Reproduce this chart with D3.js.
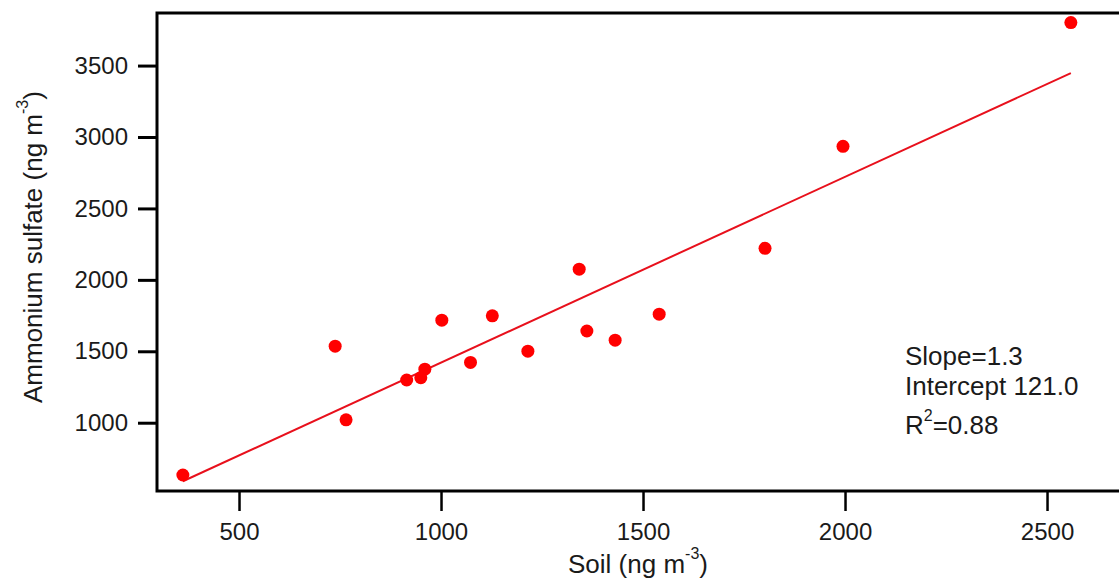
<!DOCTYPE html>
<html>
<head>
<meta charset="utf-8">
<script src="https://cdn.jsdelivr.net/npm/d3@7"></script>
<style>
  body { margin: 0; background: #fff; }
  text { font-family: "Liberation Sans", Arial, sans-serif; fill: #1a1a1a; }
</style>
</head>
<body>
<svg id="chart" width="1119" height="586"></svg>
<script>
// soil vs ammonium sulfate
var soil = [361, 765, 738, 915, 950, 960, 1002, 1073, 1127, 1215, 1342, 1361, 1431, 1540, 1802, 1995, 2559];
var sulfate = [634, 1020, 1536, 1299, 1315, 1375, 1718, 1422, 1748, 1501, 2075, 1642, 1578, 1760, 2221, 2935, 3801];

var xTicks = [500, 1000, 1500, 2000, 2500];
var yTicks = [1000, 1500, 2000, 2500, 3000, 3500];

// fit shown in the annotation
var fitSlope = 1.3;
var fitIntercept = 121.0;
var fitLabels = ['Slope=1.3', 'Intercept 121.0'];
var r2Label = '=0.88';

var svg = d3.select('#chart');

var plotLeft = 157, plotRight = 1125, plotTop = 13, plotBottom = 491;

var x = d3.scaleLinear().domain([297, 2693]).range([plotLeft, plotRight]);
var y = d3.scaleLinear().domain([522, 3868]).range([plotBottom, plotTop]);

var pts = soil.map(function(d, i) { return {x: d, y: sulfate[i]}; });

// axes
var xAxis = svg.append('g')
	.attr('transform', 'translate(0,' + plotBottom + ')')
	.call(d3.axisBottom(x).tickValues(xTicks).tickSize(20).tickPadding(12).tickFormat(d3.format('d')));

var yAxis = svg.append('g')
	.attr('transform', 'translate(' + plotLeft + ',0)')
	.call(d3.axisLeft(y).tickValues(yTicks).tickSize(19).tickPadding(10).tickFormat(d3.format('d')));

[xAxis, yAxis].forEach(function(a) {
	a.select('.domain').remove();
	a.selectAll('.tick line').attr('stroke', '#000').attr('stroke-width', 3);
	a.selectAll('.tick text').style('font-size', '24px').attr('fill', '#1a1a1a');
});
xAxis.selectAll('.tick line').attr('stroke-width', 2.5);

// frame
svg.append('rect')
	.attr('x', plotLeft).attr('y', plotTop)
	.attr('width', plotRight - plotLeft + 10).attr('height', plotBottom - plotTop)
	.attr('fill', 'none').attr('stroke', '#000').attr('stroke-width', 3);

// regression line
var xMin = d3.min(soil), xMax = d3.max(soil);
svg.append('line')
	.attr('x1', x(xMin)).attr('y1', y(fitSlope * xMin + fitIntercept))
	.attr('x2', x(xMax)).attr('y2', y(fitSlope * xMax + fitIntercept))
	.attr('stroke', '#e8101c').attr('stroke-width', 2);

// points
svg.append('g').selectAll('circle')
	.data(pts)
	.join('circle')
	.attr('cx', function(d) { return x(d.x); })
	.attr('cy', function(d) { return y(d.y); })
	.attr('r', 6.5)
	.attr('fill', '#ff0000');

// annotation
var ann = svg.append('g').attr('transform', 'translate(905,0)');
fitLabels.forEach(function(t, i) {
	ann.append('text').attr('x', 0).attr('y', 365 + i * 30).style('font-size', '26px').text(t);
});
var r2 = ann.append('text').attr('x', 0).attr('y', 434).style('font-size', '26px');
r2.append('tspan').text('R');
r2.append('tspan').attr('dy', -13).style('font-size', '16px').text('2');
r2.append('tspan').attr('dy', 13).text(r2Label);

// x title
var xt = svg.append('text').attr('x', 568).attr('y', 573).style('font-size', '26px');
xt.append('tspan').text('Soil (ng m');
xt.append('tspan').attr('dy', -14).style('font-size', '16px').text('-3');
xt.append('tspan').attr('dy', 14).text(')');

// y title
var yt = svg.append('text')
	.attr('transform', 'translate(42,403) rotate(-90)')
	.style('font-size', '26px');
yt.append('tspan').text('Ammonium sulfate (ng m');
yt.append('tspan').attr('dy', -14).style('font-size', '16px').text('-3');
yt.append('tspan').attr('dy', 14).text(')');
</script>
</body>
</html>
